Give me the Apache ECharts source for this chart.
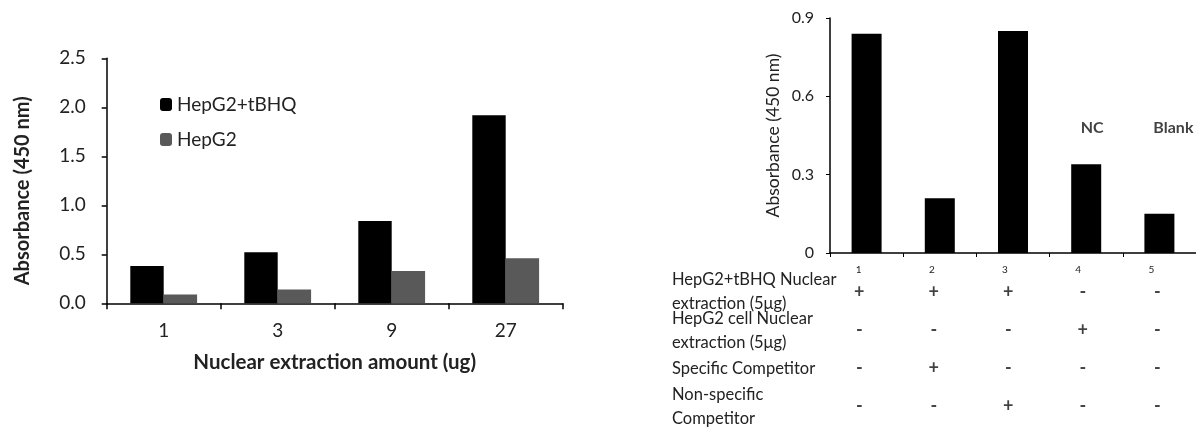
<!DOCTYPE html>
<html>
<head>
<meta charset="utf-8">
<script src="https://cdn.jsdelivr.net/npm/echarts@6/dist/echarts.min.js"></script>
<style>
  html, body { margin: 0; padding: 0; background: #fff; }
  #main { width: 1196px; height: 430px; }
</style>
</head>
<body>
<div id="main"></div>
<script>
// left panel: dose response
const amounts = ['1', '3', '9', '27'];
const tbhqValues = [0.38, 0.52, 0.84, 1.92];
const hepg2Values = [0.09, 0.14, 0.33, 0.46];

// right panel: competition lanes
const lanes = ['1', '2', '3', '4', '5'];
const laneValues = [0.84, 0.21, 0.85, 0.34, 0.15];
const laneTags = ['', '', '', 'NC', 'Blank'];

// table under the right panel
const rowNames = [
  'HepG2+tBHQ Nuclear\nextraction (5μg)',
  'HepG2 cell Nuclear\nextraction (5μg)',
  'Specific Competitor',
  'Non-specific\nCompetitor'
];
const tbhqRow = ['+', '+', '+', '-', '-'];
const hepg2Row = ['-', '-', '-', '+', '-'];
const specificRow = ['-', '+', '-', '-', '-'];
const nonSpecificRow = ['-', '-', '+', '-', '-'];

const FONT = 'Lato';
const myChart = echarts.init(document.getElementById('main'));

const signData = [];
[tbhqRow, hepg2Row, specificRow, nonSpecificRow].forEach((row, r) => {
  row.forEach((s, c) => signData.push([c, r, s]));
});

// NC / Blank captions, all at the same height over lanes 4 and 5
const tagData = [];
laneTags.forEach((t, i) => {
  if (t) tagData.push({ value: [i, 0.48, t], label: { offset: [t === 'Blank' ? 14 : 6, 0] } });
});

const option = {
  animation: false,
  textStyle: { fontFamily: FONT },
  grid: [
    { left: 106.7, top: 58.3, width: 456, height: 245 },
    { left: 830, top: 18, width: 372.5, height: 235 },
    { left: 822, top: 273, width: 372.5, height: 157 }
  ],
  legend: {
    data: ['HepG2+tBHQ', 'HepG2'],
    orient: 'vertical',
    left: 155,
    top: 90,
    itemWidth: 12,
    itemHeight: 13,
    itemGap: 16,
    textStyle: { fontFamily: FONT, fontSize: 19, color: '#222' }
  },
  xAxis: [
    {
      type: 'category',
      gridIndex: 0,
      data: amounts,
      axisLine: { lineStyle: { color: '#000', width: 1.5 } },
      axisTick: { show: true, length: 6, lineStyle: { color: '#000', width: 1.5 } },
      axisLabel: { fontSize: 19, color: '#222', margin: 18 },
      name: 'Nuclear extraction amount (ug)',
      nameLocation: 'middle',
      nameGap: 49,
      nameTextStyle: { fontSize: 20.5, fontWeight: 'bold', color: '#222' }
    },
    {
      type: 'category',
      gridIndex: 1,
      data: lanes,
      axisLine: { lineStyle: { color: '#000', width: 1.5 } },
      axisTick: { show: true, length: 4, lineStyle: { color: '#000' } },
      axisLabel: { fontSize: 10, color: '#222', margin: 12, padding: [0, 16, 0, 0] }
    },
    {
      type: 'category',
      gridIndex: 2,
      data: lanes,
      show: false
    }
  ],
  yAxis: [
    {
      type: 'value',
      gridIndex: 0,
      min: 0,
      max: 2.5,
      interval: 0.5,
      splitLine: { show: false },
      axisLine: { show: true, lineStyle: { color: '#000', width: 1.5 } },
      axisTick: { show: true, length: 5, lineStyle: { color: '#000', width: 1.5 } },
      axisLabel: { fontSize: 19, color: '#222', margin: 21, formatter: (v) => v.toFixed(1) },
      name: 'Absorbance (450 nm)',
      nameLocation: 'middle',
      nameGap: 74,
      nameTextStyle: { fontSize: 20, fontWeight: 'bold', color: '#222', padding: [0, 20, 0, 0] }
    },
    {
      type: 'value',
      gridIndex: 1,
      min: 0,
      max: 0.9,
      interval: 0.3,
      splitLine: { show: false },
      axisLine: { show: true, lineStyle: { color: '#000', width: 1.5 } },
      axisTick: { show: true, length: 4, lineStyle: { color: '#000' } },
      axisLabel: { fontSize: 16, color: '#222', margin: 16 },
      name: 'Absorbance (450 nm)',
      nameLocation: 'middle',
      nameGap: 48,
      nameTextStyle: { fontSize: 17.5, color: '#222' }
    },
    {
      type: 'category',
      gridIndex: 2,
      data: rowNames,
      inverse: true,
      axisLine: { show: false },
      axisTick: { show: false },
      axisLabel: {
        interval: 0,
        margin: 150,
        fontSize: 16.5,
        color: '#222',
        align: 'left',
        lineHeight: 24
      }
    }
  ],
  series: [
    {
      name: 'HepG2+tBHQ',
      type: 'bar',
      xAxisIndex: 0,
      yAxisIndex: 0,
      data: tbhqValues,
      barWidth: 33.4,
      barGap: '0%',
      itemStyle: { color: '#000' }
    },
    {
      name: 'HepG2',
      type: 'bar',
      xAxisIndex: 0,
      yAxisIndex: 0,
      data: hepg2Values,
      barWidth: 33.4,
      barGap: '0%',
      itemStyle: { color: '#595959' }
    },
    {
      name: 'lanes',
      type: 'bar',
      xAxisIndex: 1,
      yAxisIndex: 1,
      data: laneValues,
      barWidth: 30,
      itemStyle: { color: '#000' }
    },
    {
      name: 'tags',
      type: 'scatter',
      xAxisIndex: 1,
      yAxisIndex: 1,
      data: tagData,
      symbolSize: 0,
      label: {
        show: true,
        position: 'inside',
        formatter: (p) => p.value[2],
        fontSize: 16,
        fontWeight: 'bold',
        color: '#111'
      }
    },
    {
      name: 'signs',
      type: 'scatter',
      xAxisIndex: 2,
      yAxisIndex: 2,
      data: signData,
      symbolSize: 0,
      label: {
        show: true,
        position: 'inside',
        formatter: (p) => p.value[2],
        fontSize: 18,
        fontWeight: 'bold',
        color: '#111'
      }
    }
  ]
};

option && myChart.setOption(option);
</script>
</body>
</html>
